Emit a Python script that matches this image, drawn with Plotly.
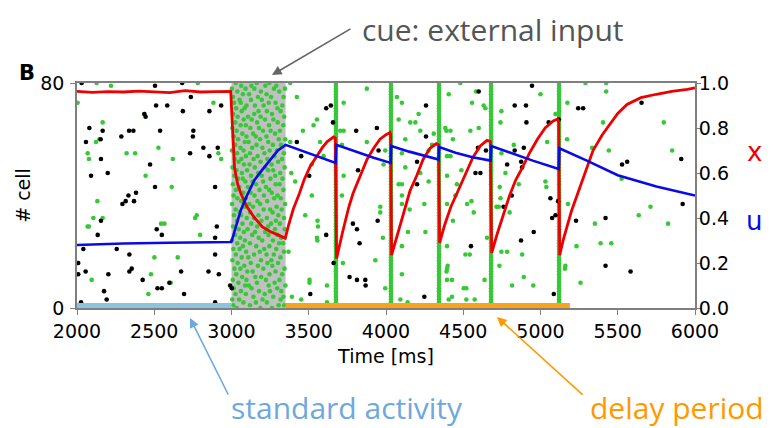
import plotly.graph_objects as go

# ---------------- data ----------------
x_ticks = [2000, 2500, 3000, 3500, 4000, 4500, 5000, 5500, 6000]
cell_ticks = [0, 80]
xu_ticks = [0.0, 0.2, 0.4, 0.6, 0.8, 1.0]

cue_period = [3000, 3350]
standard_period = [2000, 3000]
delay_period = [3350, 5190]

# synaptic resources x(t)
x_time = [2000, 2100, 2200, 2300, 2400, 2500, 2600, 2700, 2800, 2900, 2995,
          3005, 3020, 3040, 3060, 3100, 3150, 3200, 3250, 3300, 3348,
          3370, 3400, 3440, 3470, 3510, 3555, 3590, 3620, 3660, 3672,
          3680, 3720, 3760, 3787, 3830, 3877, 3920, 3961, 4000, 4026, 4030,
          4036, 4080, 4120, 4155, 4200, 4240, 4285, 4325, 4340,
          4347, 4380, 4420, 4466, 4500, 4563, 4610, 4654, 4675,
          4684, 4720, 4760, 4800, 4840, 4880, 4930, 4980, 5030, 5080, 5110, 5118,
          5124, 5150, 5200, 5240, 5280, 5340, 5400, 5450, 5500, 5560, 5650, 5750, 5850, 5950, 6000]
x_val = [0.963, 0.958, 0.962, 0.960, 0.964, 0.961, 0.957, 0.966, 0.960, 0.962, 0.963,
         0.82, 0.62, 0.55, 0.51, 0.45, 0.40, 0.36, 0.34, 0.325, 0.31,
         0.37, 0.44, 0.51, 0.57, 0.63, 0.68, 0.715, 0.74, 0.76, 0.755,
         0.22, 0.34, 0.45, 0.51, 0.58, 0.66, 0.71, 0.75, 0.77, 0.78, 0.77,
         0.235, 0.34, 0.44, 0.52, 0.59, 0.66, 0.71, 0.73, 0.725,
         0.29, 0.37, 0.45, 0.52, 0.57, 0.67, 0.72, 0.745, 0.74,
         0.245, 0.33, 0.42, 0.50, 0.57, 0.62, 0.69, 0.75, 0.80, 0.83, 0.84, 0.83,
         0.235, 0.31, 0.43, 0.51, 0.58, 0.70, 0.77, 0.82, 0.865, 0.905, 0.935, 0.95, 0.963, 0.972, 0.978]

# utilization u(t)
u_time = [2000, 2300, 2600, 2998, 3002, 3030, 3060, 3100, 3150, 3200, 3250, 3300, 3350,
          3450, 3550, 3674, 3678, 3800, 3920, 4030, 4034, 4150, 4250, 4341, 4345,
          4450, 4560, 4678, 4682, 4800, 4950, 5118, 5122, 5300, 5500, 5750, 6000]
u_val = [0.280, 0.287, 0.290, 0.293, 0.30, 0.37, 0.435, 0.50, 0.57, 0.615, 0.66, 0.70, 0.725,
         0.70, 0.675, 0.645, 0.725, 0.695, 0.668, 0.645, 0.72, 0.695, 0.675, 0.66, 0.715,
         0.69, 0.67, 0.655, 0.72, 0.69, 0.655, 0.618, 0.71, 0.655, 0.59, 0.54, 0.50]

# population spikes (all cells fire)
burst_times = [3676, 4032, 4343, 4680, 5120]
all_cells = list(range(81))

# spikes of stimulated cells during the cue, one row per cell (cell 0 .. 80)
cue_rows = [
    [3034, 3187, 3262], [3011, 3120, 3305, 3341], [3077, 3158, 3229], [3005, 3049, 3201, 3318],
    [3142, 3270, 3336], [3026, 3093, 3215], [3061, 3178, 3249, 3322], [3014, 3130, 3296],
    [3088, 3112, 3241, 3349], [3045, 3165, 3279], [3008, 3097, 3223, 3310], [3069, 3154, 3192],
    [3031, 3246, 3328], [3102, 3137, 3285], [3019, 3058, 3206, 3343], [3083, 3171, 3264],
    [3040, 3125, 3233, 3301], [3006, 3191, 3258], [3066, 3109, 3317], [3028, 3146, 3227, 3274],
    [3095, 3183, 3339], [3012, 3052, 3212, 3290], [3074, 3160, 3245], [3037, 3119, 3308, 3334],
    [3003, 3087, 3199, 3268], [3056, 3176, 3321], [3023, 3134, 3240, 3297], [3080, 3153, 3218],
    [3047, 3104, 3281, 3345], [3010, 3166, 3237], [3071, 3128, 3256, 3313], [3035, 3194, 3287],
    [3099, 3145, 3229, 3340], [3016, 3061, 3174, 3303], [3054, 3121, 3266], [3027, 3208, 3250, 3325],
    [3084, 3139, 3292], [3004, 3115, 3186, 3347], [3063, 3168, 3231], [3038, 3092, 3276, 3319],
    [3013, 3149, 3210, 3298], [3076, 3124, 3261], [3029, 3181, 3244, 3336], [3050, 3106, 3223],
    [3009, 3159, 3286, 3311], [3090, 3136, 3205], [3042, 3073, 3252, 3330], [3018, 3127, 3196, 3283],
    [3067, 3173, 3315], [3032, 3101, 3237, 3270], [3007, 3151, 3219, 3344], [3081, 3117, 3259],
    [3046, 3188, 3302], [3021, 3064, 3143, 3232, 3327], [3093, 3169, 3278], [3036, 3120, 3213, 3339],
    [3003, 3078, 3247, 3294], [3058, 3134, 3200], [3025, 3162, 3268, 3320], [3086, 3111, 3238],
    [3043, 3185, 3306, 3348], [3015, 3097, 3157, 3226], [3070, 3140, 3282], [3033, 3204, 3253, 3313],
    [3006, 3122, 3178], [3059, 3093, 3243, 3335], [3024, 3166, 3299], [3079, 3131, 3217, 3271],
    [3040, 3107, 3189, 3341], [3011, 3147, 3262], [3066, 3175, 3229, 3318], [3030, 3085, 3297],
    [3097, 3152, 3208, 3329], [3017, 3060, 3241, 3285], [3052, 3126, 3196], [3009, 3171, 3256, 3337],
    [3074, 3114, 3227], [3038, 3190, 3309], [3002, 3091, 3148, 3275, 3346], [3063, 3129, 3219, 3290],
    [3027, 3163, 3244],
]

# background (non-selective) spikes
black_t = [2030, 2505, 2681, 2512, 2584, 2737, 2685, 2857, 2933, 2436, 2444, 2080, 2166, 2337, 2365,
           2538, 2287, 2753, 2750, 2058, 2153, 2818, 2911, 2732, 2857, 2155, 2473, 2199, 2091, 2505,
           2894, 2333, 2382, 2294, 2315, 2369, 2155, 2516, 2549, 2905, 2894, 2134, 2041, 2257, 2339,
           2894, 2008, 2008, 2056, 2203, 2339, 2354, 2674, 2851, 2918, 2425, 2521, 2549, 2598, 2175,
           2693, 2192, 2026, 2306, 2894, 2991, 3002,
           3613, 3643, 3657, 3807, 3941, 4259, 4259, 3423, 3451, 3503, 3819, 3952, 4201, 4201,
           4600, 4945, 4833, 4906, 4909, 5053, 5118, 5244, 5276, 5654, 4595, 4647, 4833, 4892, 4784,
           4875, 4881, 4579, 4611, 5528, 5561, 5911,
           3786, 3812, 3613, 3946, 3829, 3661, 3764, 3812, 3866, 3868, 3510, 3559, 4248,
           4814, 4761, 5064, 5114, 5075, 5097, 5230, 5421, 5920, 4956, 4874, 4550, 5421, 5583, 5086]
black_c = [80, 79, 80, 72, 72, 75, 70, 70, 72, 69, 68, 64, 63, 63, 63,
           63, 61, 63, 61, 59, 60, 57, 57, 55, 54, 53, 51, 48, 47, 43,
           43, 40, 41, 37, 38, 38, 31, 28, 26, 29, 25, 26, 21, 21, 19,
           19, 16, 12, 13, 12, 13, 14, 13, 13, 12, 10, 7, 7, 9, 6,
           5, 3, 2, 1, 2, 8, 7,
           71, 72, 66, 63, 64, 72, 61, 59, 54, 47, 49, 56, 52, 44,
           77, 79, 72, 72, 66, 66, 67, 71, 71, 73, 57, 56, 56, 57, 51,
           52, 50, 48, 48, 51, 52, 53,
           30, 28, 26, 31, 23, 16, 11, 10, 10, 8, 5, 1, 4,
           40, 36, 39, 38, 32, 33, 31, 32, 37, 27, 24, 22, 15, 13, 5]

green_t = [2127, 2220, 2782, 2004, 2883, 2436, 2166, 2145, 2123, 2069, 2077, 2321, 2376, 2527, 2620,
           2915, 2933, 2444, 2613, 2132, 2106, 2069, 2077, 2166, 2544, 2566, 2765, 2775, 2797, 2501,
           2652, 2479, 2095, 2607, 2462,
           3380, 3423, 3553, 3531, 3462, 3380, 3574, 3387, 3412, 3520, 3596, 3726, 3704, 3726, 3715,
           3726, 3876, 3876, 3995, 3984, 4071, 4103, 4082, 4125, 4103, 4157, 4190, 4211, 4222, 4309,
           4298, 4276, 4222, 4276, 4384, 4417, 4395, 4417, 4082, 4125,
           4481, 4406, 4583, 4557, 4632, 4643, 4747, 4741, 4600, 4546, 4391, 4433, 5000, 5097, 5174,
           5172, 5291, 5425, 5425, 5405, 5334, 5043, 5442, 5798, 5852, 5525, 4827, 4747, 4395, 4488,
           4773, 5032, 4859,
           3520, 3477, 3557, 3560, 3553, 3556, 3369, 3721, 3715, 3931, 3963, 3963, 3980, 4103, 4103,
           4103, 4103, 4103, 4153, 4142, 4255, 4248, 3505, 3505, 3391, 3451, 3618, 3618, 3995, 4093,
           4140, 4395, 4395, 4406, 4459, 4449,
           4395, 4433, 4525, 4553, 4568, 4514, 4542, 4399, 4392, 4395, 4427, 4503, 4520, 4427, 4520,
           4574, 4638, 4654, 4736, 4741, 4715, 4730, 4800, 4747, 4784, 4734, 4745, 4816, 4881, 4892,
           4953, 5038, 5178, 5161, 5158, 5233, 5259, 5352, 5389, 5458, 5636, 5712, 5826]
green_c = [80, 79, 80, 73, 73, 69, 66, 60, 59, 55, 53, 55, 55, 57, 53,
           55, 53, 47, 43, 38, 32, 29, 29, 32, 30, 30, 32, 33, 26, 18,
           18, 12, 10, 9, 5,
           80, 75, 67, 65, 63, 59, 59, 48, 45, 51, 54, 73, 63, 63, 58,
           47, 78, 59, 56, 51, 75, 73, 67, 60, 55, 66, 66, 69, 63, 62,
           58, 56, 48, 45, 64, 63, 47, 54, 44, 50,
           80, 76, 77, 73, 72, 71, 70, 66, 64, 63, 63, 60, 76, 69, 73,
           60, 80, 80, 77, 66, 57, 59, 56, 66, 56, 46, 58, 55, 54, 49,
           48, 45, 44,
           40, 33, 31, 29, 25, 24, 20, 16, 40, 17, 36, 34, 25, 44, 40,
           37, 22, 12, 35, 27, 27, 37, 10, 9, 4, 3, 8, 2, 7, 3,
           2, 22, 14, 3, 44, 40,
           37, 31, 37, 38, 34, 19, 19, 15, 13, 10, 10, 7, 7, 4, 3,
           3, 10, 25, 43, 39, 36, 36, 34, 20, 20, 15, 1, 8, 19, 11,
           8, 43, 37, 15, 14, 22, 9, 30, 23, 23, 33, 36, 30]

# ---------------- build raster ----------------
cue_t, cue_c = [], []
for cell, row in enumerate(cue_rows):
    for t in row:
        cue_t.append(t)
        cue_c.append(cell)

burst_t, burst_c = [], []
for t in burst_times:
    burst_t += [t] * len(all_cells)
    burst_c += all_cells

GREEN = "#35c935"
DOT = 4.6

fig = go.Figure()
fig.add_trace(go.Scatter(x=cue_t + burst_t + green_t, y=cue_c + burst_c + green_c, mode="markers",
                         marker=dict(color=GREEN, size=DOT, line_width=0), showlegend=False,
                         hoverinfo="skip"))
fig.add_trace(go.Scatter(x=black_t, y=black_c, mode="markers",
                         marker=dict(color="black", size=DOT, line_width=0), showlegend=False,
                         hoverinfo="skip"))
fig.add_trace(go.Scatter(x=x_time, y=x_val, mode="lines", yaxis="y2",
                         line=dict(color="#ee0000", width=2.8), showlegend=False))
fig.add_trace(go.Scatter(x=u_time, y=u_val, mode="lines", yaxis="y2",
                         line=dict(color="#0a0ae6", width=2.6), showlegend=False))

# cue shading and period bars
fig.add_shape(type="rect", xref="x", yref="y domain", x0=cue_period[0], x1=cue_period[1],
              y0=0, y1=1, fillcolor="#c0c0c0", line_width=0, layer="below")
fig.add_shape(type="rect", xref="x", yref="y domain", x0=standard_period[0], x1=standard_period[1],
              y0=0.0, y1=0.022, fillcolor="#8cc4e0", line_width=0, layer="above")
fig.add_shape(type="rect", xref="x", yref="y domain", x0=delay_period[0], x1=delay_period[1],
              y0=0.0, y1=0.022, fillcolor="#f8a31a", line_width=0, layer="above")

AX = "#7f7f7f"
tickfont = dict(family="DejaVu Sans", size=19, color="black")
# the page body has an 8px margin: figure is offset by (8, 8) in the window
fig.update_layout(
    width=765, height=420,
    margin=dict(l=69, r=78, t=75, b=120, autoexpand=False),
    plot_bgcolor="white", paper_bgcolor="white",
    xaxis=dict(range=[2000, 6000], tickvals=x_ticks, ticktext=[str(v) for v in x_ticks],
               ticks="outside", ticklen=5, tickcolor=AX, showline=True, linecolor=AX, linewidth=1.5,
               mirror=True, showgrid=False, zeroline=False, tickfont=tickfont, automargin=False,
               title=dict(text="Time [ms]", font=tickfont, standoff=9)),
    yaxis=dict(range=[0, 80], tickvals=cell_ticks, ticks="outside", ticklen=5, tickcolor=AX,
               showline=True, linecolor=AX, linewidth=1.5, mirror=True, showgrid=False,
               zeroline=False, tickfont=tickfont, automargin=False, ticklabelstandoff=2,
               title=dict(text="# cell", font=tickfont, standoff=5)),
    yaxis2=dict(range=[0, 1], overlaying="y", side="right", tickvals=xu_ticks,
                ticktext=["%.1f" % v for v in xu_ticks], ticks="outside", ticklen=5, tickcolor=AX,
                showline=False, showgrid=False, zeroline=False, tickfont=tickfont, automargin=False,
                ticklabelstandoff=-6),
)

ann_font = "Open Sans"
C = dict(xref="paper", yref="paper", xanchor="center", yanchor="middle")
fig.add_annotation(text="cue: external input", x=0.673, y=1.24, showarrow=False,
                   font=dict(family=ann_font, size=30, color="#555555"), **C)
fig.add_annotation(text="", x=0.3155, y=1.0356, ax=80, ay=-47, showarrow=True, arrowhead=2,
                   arrowsize=1.2, arrowwidth=1.6, arrowcolor="#666666", **C)
fig.add_annotation(text="standard activity", x=0.4369, y=-0.4444, showarrow=False,
                   font=dict(family=ann_font, size=30, color="#6fa8dc"), **C)
fig.add_annotation(text="", x=0.1828, y=-0.0444, ax=39, ay=78, showarrow=True, arrowhead=2,
                   arrowsize=1.2, arrowwidth=1.6, arrowcolor="#6fa8dc", **C)
fig.add_annotation(text="delay period", x=0.9709, y=-0.4444, showarrow=False,
                   font=dict(family=ann_font, size=30, color="#ff9900"), **C)
fig.add_annotation(text="", x=0.6796, y=-0.04, ax=87, ay=79, showarrow=True, arrowhead=2,
                   arrowsize=1.2, arrowwidth=1.6, arrowcolor="#ff9900", **C)
fig.add_annotation(text="x", x=1.0955, y=0.6933, showarrow=False,
                   font=dict(family="DejaVu Sans", size=26, color="#ee0000"), **C)
fig.add_annotation(text="u", x=1.0955, y=0.3867, showarrow=False,
                   font=dict(family="DejaVu Sans", size=26, color="#0a0ae6"), **C)
fig.add_annotation(text="<b>B</b>", x=-0.0809, y=1.045, showarrow=False,
                   font=dict(family="DejaVu Sans", size=21, color="black"), **C)

fig.write_html("out.html")
